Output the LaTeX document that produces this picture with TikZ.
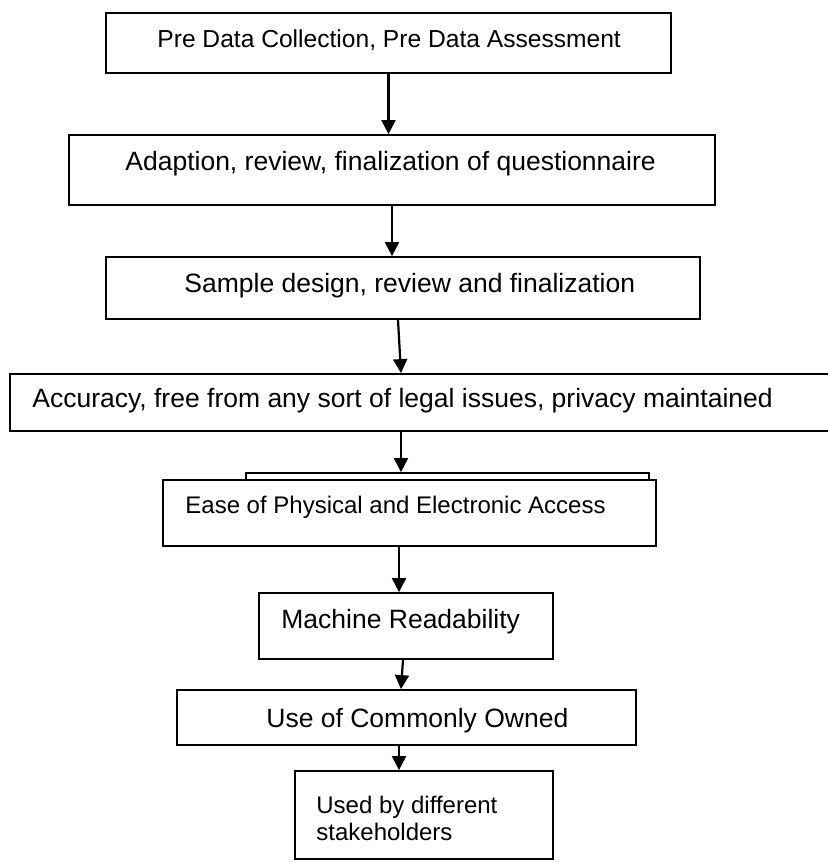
\documentclass[tikz,border=0pt]{standalone}
\usepackage{fontspec}
\setmainfont{Liberation Sans}
\usetikzlibrary{arrows.meta}
\begin{document}
\begin{tikzpicture}[x=0.5pt,y=-0.5pt,
    box/.style={draw,line width=0.9pt,fill=white,inner sep=0pt},
    txt/.style={anchor=base west,inner sep=0pt,font=\fontsize{13.25}{16}\selectfont},
    smalltxt/.style={txt,font=\fontsize{12}{13.5}\selectfont},
    arr/.style={-{Triangle[length=7pt,width=7pt]},line width=1.1pt}]
    \clip (0,0) rectangle (828,864);
    \fill[white] (0,0) rectangle (828,864);
    % boxes
    \node[box,minimum width=282.5pt,minimum height=30pt] (b1) at (388.5,43) {};
    \node[box,minimum width=323pt,minimum height=35pt] (b2) at (392,170) {};
    \node[box,minimum width=297pt,minimum height=31pt] (b3) at (403,288) {};
    \node[box,minimum width=415pt,minimum height=28.5pt] (b4) at (425,402.5) {};
    \node[box,minimum width=201.5pt,minimum height=17pt] (b5back) at (447.5,490) {};
    \node[box,minimum width=246.5pt,minimum height=33pt] (b5) at (409.5,513) {};
    \node[box,minimum width=147pt,minimum height=33pt] (b6) at (406,626) {};
    \node[box,minimum width=229.5pt,minimum height=27.5pt] (b7) at (406.5,717.5) {};
    \node[box,minimum width=129pt,minimum height=44pt] (b8) at (424,815) {};
    % texts
    \node[txt,font=\fontsize{12.3}{15}\selectfont] (t1) at (157,47) {Pre Data Collection, Pre Data Assessment};
    \node[txt] (t2) at (125,170) {Adaption, review, finalization of questionnaire};
    \node[txt] (t3) at (184,292) {Sample design, review and finalization};
    \node[txt] (t4) at (32,407) {Accuracy, free from any sort of legal issues, privacy maintained};
    \node[smalltxt] (t5) at (185,513) {Ease of Physical and Electronic Access};
    \node[txt] (t6) at (281,628) {Machine Readability};
    \node[txt] (t7) at (266,727) {Use of Commonly Owned};
    \node[smalltxt,align=left] (t8) at (316,840) {Used by different\\stakeholders};
    % arrows
    \draw[arr] (b1.south) -- (b1.south |- b2.north);
    \draw[arr] (b2.south) -- (b2.south |- b3.north);
    \draw[arr] ([xshift=-2.5pt]b3.south) -- ([xshift=-12pt]b4.north);
    \draw[arr] ([xshift=-12pt]b4.south) -- ([xshift=-23.25pt]b5back.north);
    \draw[arr] ([xshift=-5.25pt]b5.south) -- ([xshift=-3.5pt]b6.north);
    \draw[arr] ([xshift=-1.5pt]b6.south) -- ([xshift=-2.75pt]b7.north);
    \draw[arr] ([xshift=-3.75pt]b7.south) -- ([xshift=-12.5pt]b8.north);
\end{tikzpicture}
\end{document}
